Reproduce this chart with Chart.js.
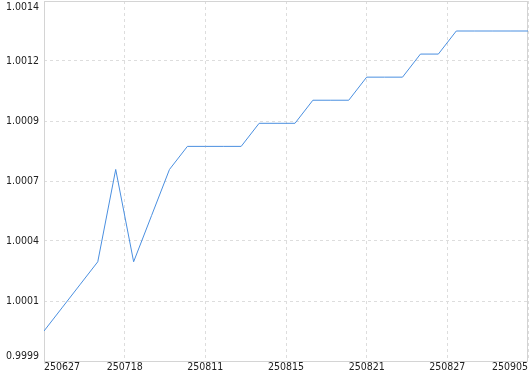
<!DOCTYPE html>
<html>
<head>
<meta charset="utf-8">
<script src="https://cdn.jsdelivr.net/npm/chart.js@4"></script>
<style>
  body { margin: 0; background: #fff; }
  #wrap { width: 530px; height: 374px; }
</style>
</head>
<body>
<div id="wrap"><canvas id="navChart"></canvas></div>
<script>
// values, one per sample
var navValues = [
  1.0000, 1.0001, 1.0002, 1.0003, 1.0007, 1.0003, 1.0005, 1.0007,
  1.0008, 1.0008, 1.0008, 1.0008, 1.0009, 1.0009, 1.0009, 1.0010,
  1.0010, 1.0010, 1.0011, 1.0011, 1.0011, 1.0012, 1.0012, 1.0013,
  1.0013, 1.0013, 1.0013, 1.0013
];
var xTickLabels = ['250627', '250718', '250811', '250815', '250821', '250827', '250905'];
var yTickLabels = ['0.9999', '1.0001', '1.0004', '1.0007', '1.0009', '1.0012', '1.0014'];
var yMin = 0.99987;
var yMax = 1.00143;

var FONT = "'DejaVu Sans Condensed', 'DejaVu Sans', sans-serif";
var FONT_SIZE = 10.5;

document.addEventListener('DOMContentLoaded', function() {
  var lastIndex = navValues.length - 1;
  var points = navValues.map(function(v, i) { return { x: i, y: v }; });

  // frame around the plot + y labels drawn by hand so the end ones sit inside
  var framePlugin = {
    id: 'frame',
    beforeDatasetsDraw: function(chart) {
      var a = chart.chartArea, ctx = chart.ctx;
      ctx.save();
      ctx.strokeStyle = '#d4d4d4';
      ctx.lineWidth = 1;
      ctx.strokeRect(Math.round(a.left) + 0.5, Math.round(a.top) + 0.5,
        Math.round(a.right - a.left) - 1, Math.round(a.bottom - a.top));
      ctx.restore();
    },
    afterDraw: function(chart) {
      var y = chart.scales.y, ctx = chart.ctx;
      ctx.save();
      ctx.font = FONT_SIZE + 'px ' + FONT;
      ctx.fillStyle = '#222';
      ctx.textAlign = 'right';
      ctx.textBaseline = 'middle';
      y.ticks.forEach(function(t, i) {
        var py = y.getPixelForValue(t.value);
        if (i === 0) py -= 5;
        if (i === y.ticks.length - 1) py += 6;
        ctx.fillText(yTickLabels[i], y.right - 5, py);
      });
      ctx.restore();
    }
  };

  var ctx = document.getElementById('navChart').getContext('2d');
  new Chart(ctx, {
    type: 'line',
    data: {
      datasets: [{
        data: points,
        borderColor: '#4a8fe0',
        borderWidth: 1,
        pointRadius: 0,
        tension: 0,
        fill: false
      }]
    },
    options: {
      responsive: true,
      maintainAspectRatio: false,
      animation: false,
      layout: { padding: { top: 1, right: 2, left: 0, bottom: 0 } },
      plugins: { legend: { display: false }, tooltip: { enabled: false } },
      scales: {
        x: {
          type: 'linear',
          min: 0,
          max: lastIndex,
          afterBuildTicks: function(scale) {
            scale.ticks = xTickLabels.map(function(_, i) {
              return { value: i * lastIndex / (xTickLabels.length - 1) };
            });
          },
          afterFit: function(scale) { scale.height = 13; },
          ticks: {
            align: 'inner',
            maxRotation: 0,
            autoSkip: false,
            padding: 0,
            color: '#222',
            font: { family: FONT, size: FONT_SIZE },
            callback: function(v, i) { return xTickLabels[i]; }
          },
          grid: { color: '#dddddd', drawTicks: false },
          border: { display: false, dash: [3, 3] }
        },
        y: {
          min: yMin,
          max: yMax,
          afterBuildTicks: function(scale) {
            var n = yTickLabels.length - 1;
            scale.ticks = yTickLabels.map(function(_, i) {
              return { value: yMin + (yMax - yMin) * i / n };
            });
          },
          afterFit: function(scale) { scale.width = 44; },
          ticks: { display: false },
          grid: { color: '#dddddd', drawTicks: false },
          border: { display: false, dash: [3, 3] }
        }
      }
    },
    plugins: [framePlugin]
  });
});
</script>
</body>
</html>
